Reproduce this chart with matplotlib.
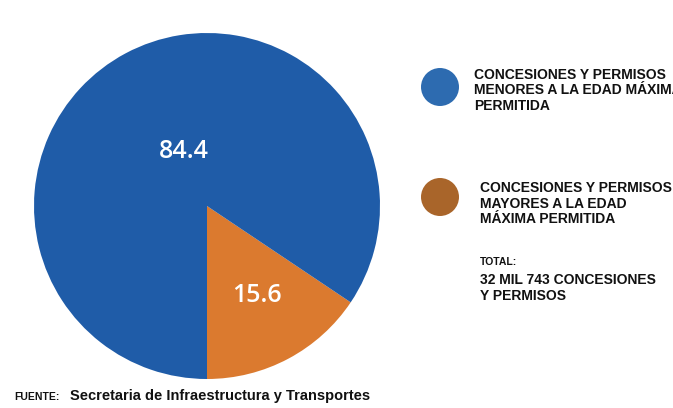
import matplotlib
matplotlib.use("Agg")
import matplotlib.pyplot as plt

# data
shares = [15.6, 84.4]
share_labels = ["15.6", "84.4"]
colors = ["#DB7A2F", "#1F5CA8"]
legend_items = [
    ["CONCESIONES Y PERMISOS", "MENORES A LA EDAD MÁXIMA", "PERMITIDA"],
    ["CONCESIONES Y PERMISOS", "MAYORES A LA EDAD", "MÁXIMA PERMITIDA"],
]
legend_colors = ["#2D6BB0", "#A9652A"]
total_lines = ["32 MIL 743 CONCESIONES", "Y PERMISOS"]

W, H = 673, 408
fig = plt.figure(figsize=(W / 100, H / 100), dpi=100)
ax = fig.add_axes([0, 0, 1, 1])

wedges, texts = ax.pie(shares, colors=colors, startangle=-90, counterclock=True,
                       center=(207, H - 206), radius=173,
                       labels=share_labels, labeldistance=0.58,
                       textprops=dict(color="white", fontsize=18, family="Open Sans",
                                      fontweight="semibold"),
                       wedgeprops=dict(linewidth=0))
# label spots
texts[1].set_position((184, H - 151))
texts[0].set_position((257, H - 295))
for t in texts:
    t.set_ha("center")
    t.set_va("center")

ax.set_xlim(0, W)
ax.set_ylim(0, H)
ax.set_aspect("equal")
ax.axis("off")

hel = ["Liberation Sans", "DejaVu Sans"]

# legend
for (cy, tx, ty), lines, c in zip([(87, 474, 75), (197, 480, 188)], legend_items, legend_colors):
    ax.add_patch(plt.Circle((440, H - cy), 19, color=c, lw=0))
    for i, line in enumerate(lines):
        ax.text(tx, H - (ty + i * 15.5), line, fontsize=10, fontweight="bold",
                family=hel, color="#111111", va="center", ha="left")

ax.text(480, H - 262, "TOTAL:", fontsize=7.5, fontweight="bold", family=hel,
        color="#111111", va="center")
for i, line in enumerate(total_lines):
    ax.text(480, H - (280 + i * 16), line, fontsize=10, fontweight="bold",
            family=hel, color="#111111", va="center")

# source
ax.text(14, H - 397, "FUENTE:", fontsize=7.5, fontweight="bold", family=hel,
        color="#111111", va="center")
ax.text(70, H - 396, "Secretaria de Infraestructura y Transportes", fontsize=10.5,
        fontweight="bold", family=hel, color="#111111", va="center")

fig.savefig("out.png", dpi=100, facecolor="white")
